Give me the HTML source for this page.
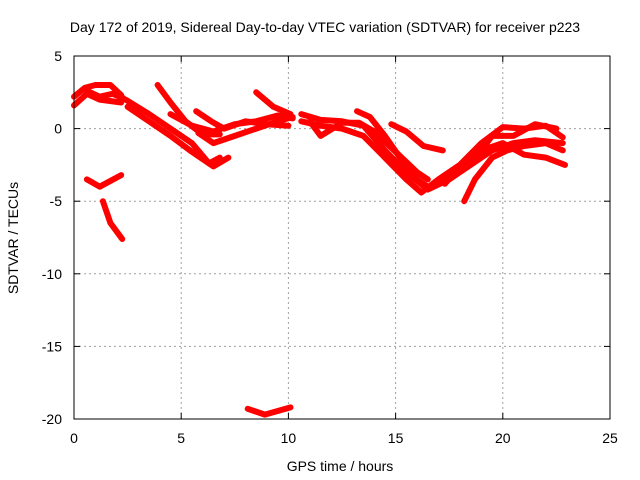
<!DOCTYPE html>
<html><head><meta charset="utf-8">
<style>
html,body{margin:0;padding:0;background:#fff;}
svg{display:block;font-family:"Liberation Sans",sans-serif;}
</style></head>
<body>
<svg id="chart" width="640" height="480">
<rect width="640" height="480" fill="#fff"/>
<g id="grid"></g>
<g id="axes"></g>
<g id="marks"></g>
<rect x="74" y="56" width="536" height="363" fill="none" stroke="#000" stroke-width="1"/>
<text x="325" y="32" text-anchor="middle" font-size="14">Day 172 of 2019, Sidereal Day-to-day VTEC variation (SDTVAR) for receiver p223</text>
<text x="340" y="471" text-anchor="middle" font-size="14">GPS time / hours</text>
<text transform="translate(18,238) rotate(-90)" text-anchor="middle" font-size="14">SDTVAR / TECUs</text>
</svg>
<script>
const xTicks=[0,5,10,15,20,25];
const yTicks=[5,0,-5,-10,-15,-20];
const s1=[[0,2.2],[0.5,2.8],[1,3],[1.7,3],[2.2,2.3]];
const s2=[[0,1.6],[0.6,2.4],[1.2,2],[2.2,1.8]];
const s3=[[0.6,2.6],[1.2,2.2],[1.8,2.4],[2.3,2.1]];
const s4=[[2.4,2],[3.5,1],[4.5,0],[5.5,-1],[6.3,-2.4],[6.8,-2]];
const s5=[[2.5,1.5],[3.5,0.5],[4.5,-0.5],[5.5,-1.6],[6.5,-2.6],[7.2,-2.0]];
const s6=[[3.9,3.0],[4.5,1.8],[5.2,0.5],[6,-0.4],[6.8,-0.4]];
const s7=[[4.5,1.0],[5.5,0.2],[6.5,-0.2],[7.5,0.3],[8.5,0.5],[9.5,0.9],[10.2,0.7]];
const s8=[[5.8,-0.3],[6.5,-1.0],[7.5,-0.5],[8.5,0],[9.5,0.5],[10.2,0.8]];
const s9=[[5.7,1.2],[6.4,0.5],[7,0],[8,0.5],[9,0.3],[10,0.2]];
const s10=[[8.5,2.5],[9.3,1.5],[10.1,1.0]];
const s11=[[10.6,1.0],[11.5,0.6],[12.5,0.5],[13.5,0.2],[14.5,-1.5],[15.5,-3],[16.5,-4.2],[17.5,-3.5],[18.5,-2.5],[19.5,-1.5],[20.5,-1.0],[21.5,-0.8],[22.8,-1]];
const s12=[[10.6,0.5],[11.5,0.2],[12.5,0],[13.5,-0.5],[14.5,-2],[15.5,-3.5],[16.2,-4.4],[17,-3.5],[18,-2.5],[19,-1],[20,0.1],[21,0],[22,0.2],[22.8,-0.6]];
const s13=[[11,0.5],[11.5,-0.5],[12.5,0.4],[13.3,0.4],[14,-0.2],[15,-1.6],[16,-3],[16.5,-3.5]];
const s14=[[13.2,1.2],[13.8,0.8],[14.5,-0.5],[15.3,-2.2],[16,-3.5],[16.5,-4]];
const s15=[[14.8,0.3],[15.5,-0.2],[16.3,-1.2],[17.2,-1.5]];
const s16=[[18.2,-5],[18.7,-3.5],[19.5,-2],[20.2,-1.5],[21,-1.2],[22,-1],[22.8,-1.5]];
const s17=[[17.3,-3.8],[18,-2.6],[19,-1.5],[20,-1.0],[21,-1.8],[22,-2],[22.9,-2.5]];
const s18=[[18.5,-2.5],[19.5,-0.5],[20.5,-0.5],[21.5,0.3],[22.5,0]];
const s19=[[0.6,-3.5],[1.2,-4.0],[2.2,-3.2]];
const s20=[[1.35,-5],[1.7,-6.5],[2.25,-7.6]];
const s21=[[8.1,-19.3],[8.9,-19.7],[10.1,-19.2]];
const seriesList=[s1,s2,s3,s4,s5,s6,s7,s8,s9,s10,s11,s12,s13,s14,s15,s16,s17,s18,s19,s20,s21];

const X0=74,X1=610,Y0=419,Y1=56,xmin=0,xmax=25,ymin=-20,ymax=5;
function sx(v){return X0+(v-xmin)/(xmax-xmin)*(X1-X0);}
function sy(v){return Y0-(v-ymin)/(ymax-ymin)*(Y0-Y1);}
const NS="http://www.w3.org/2000/svg";
function mk(tag,attrs,parent){const e=document.createElementNS(NS,tag);for(const k in attrs)e.setAttribute(k,attrs[k]);parent.appendChild(e);return e;}
const grid=document.getElementById('grid'),axes=document.getElementById('axes'),marks=document.getElementById('marks');
xTicks.forEach(t=>{
  const x=sx(t);
  if(t>xmin&&t<xmax){const g=mk('line',{x1:x,x2:x,y1:Y0,y2:Y1,stroke:'#a0a0a0','stroke-dasharray':'2,3','stroke-width':1},grid);
  
  }
  mk('line',{x1:x,x2:x,y1:Y0,y2:Y0-6,stroke:'#000'},axes);
  mk('line',{x1:x,x2:x,y1:Y1,y2:Y1+6,stroke:'#000'},axes);
  const tx=mk('text',{x:x,y:Y0+24,'text-anchor':'middle','font-size':14},axes);
  tx.textContent=t;
  
  
});
yTicks.forEach(t=>{
  const y=sy(t);
  if(t>ymin&&t<ymax){const g=mk('line',{x1:X0,x2:X1,y1:y,y2:y,stroke:'#a0a0a0','stroke-dasharray':'2,3','stroke-width':1},grid);
  
  }
  mk('line',{x1:X0,x2:X0+6,y1:y,y2:y,stroke:'#000'},axes);
  mk('line',{x1:X1,x2:X1-6,y1:y,y2:y,stroke:'#000'},axes);
  const tx=mk('text',{x:X0-12,y:y+5,'text-anchor':'end','font-size':14},axes);
  tx.textContent=t;
  
  
});
seriesList.forEach((s,i)=>{
  const pts=s.map(p=>sx(p[0]).toFixed(1)+','+sy(p[1]).toFixed(1)).join(' ');
  const pl=mk('polyline',{points:pts,fill:'none',stroke:'#ff0000','stroke-width':6,'stroke-linejoin':'round','stroke-linecap':'round'},marks);
  
  
});
</script>
</body></html>
